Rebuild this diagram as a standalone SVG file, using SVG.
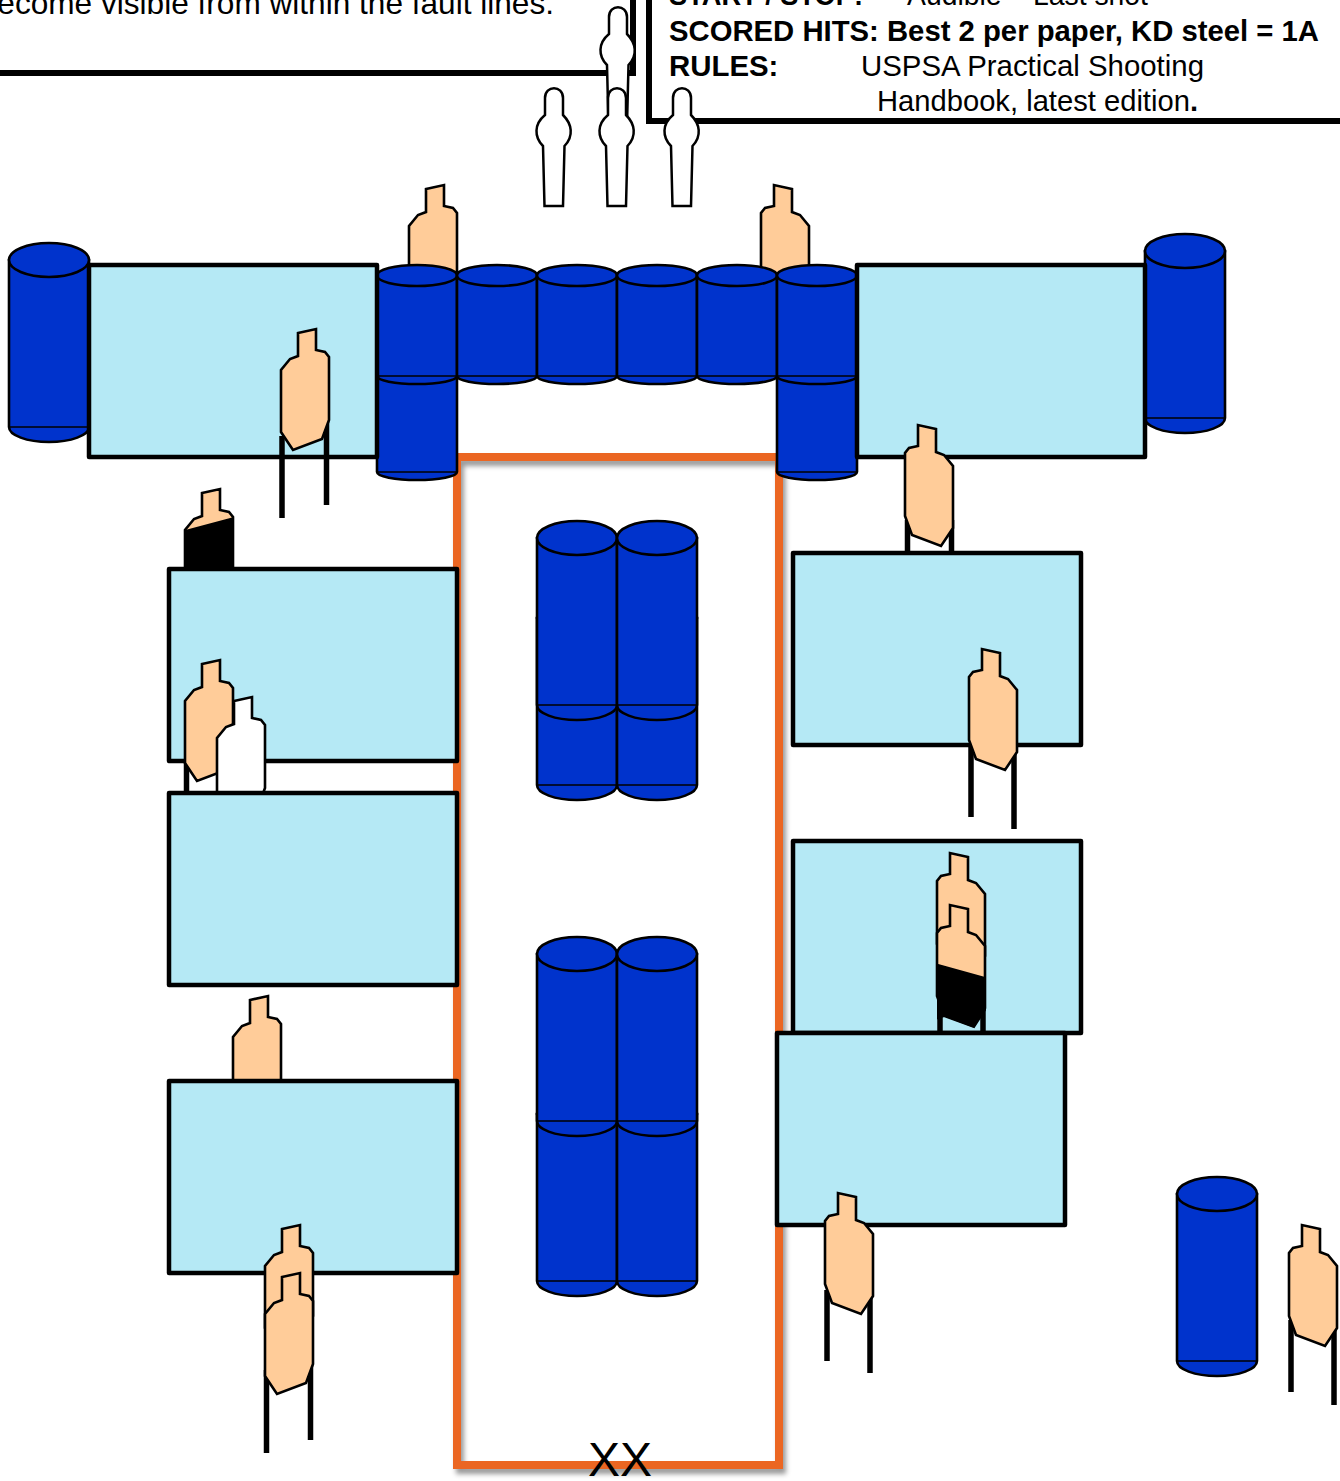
<svg xmlns="http://www.w3.org/2000/svg" width="1340" height="1481" viewBox="0 0 1340 1481">
<style>
text{font-family:"Liberation Sans",Arial,sans-serif;fill:#000;font-size:29.4px}
.b{font-weight:bold}
.wall{fill:#B5E9F5;stroke:#000;stroke-width:4.5;stroke-linejoin:round}
.frame{fill:none;stroke:#000;stroke-width:6}
.fault{fill:none;stroke:#EB6620;stroke-width:8;filter:url(#sh)}
.bar{fill:#0033CC;stroke:#000;stroke-width:2.6}
.thin{stroke:#000;stroke-width:1.5}
.tg{stroke:#000;stroke-width:2.6;stroke-linejoin:miter}
.tan{fill:#FFCC99}
.wh{fill:#fff}
.blk{fill:#000;stroke:#000;stroke-width:2}
.leg{stroke:#000;stroke-width:5.5}
.pop{fill:#fff;stroke:#000;stroke-width:2.5}
</style>
<defs>
<filter id="sh" x="-5%" y="-5%" width="110%" height="110%"><feDropShadow dx="3" dy="5" stdDeviation="2.5" flood-color="#000" flood-opacity="0.4"/></filter>
<path id="t" class="tg" d="M17,4 L35,0 V21 L44,23 L48,28 V91 L41,110 L12,121 L0,103 V41 L9,30 L17,27 Z"/>
<path id="tm" class="tg" d="M31,4 L13,0 V21 L4,23 L0,28 V91 L7,110 L36,121 L48,103 V41 L39,30 L31,27 Z"/>
<g id="b1"><path class="bar" d="M0,18 V185 A40,15 0 0 0 80,185 V18 Z"/><ellipse class="bar" cx="40" cy="18" rx="40" ry="17"/><line class="thin" x1="0" y1="185" x2="80" y2="185"/></g>
<g id="b2"><path class="bar" d="M0,10.5 V111 A40,8 0 0 0 80,111 V10.5 Z"/><ellipse class="bar" cx="40" cy="10.5" rx="40" ry="10.5"/><line class="thin" x1="0" y1="111" x2="80" y2="111"/></g>
<path id="p" class="pop" d="M-9,117 H9.5 L11,57 C20.5,47 18.5,35 9.5,26 V9 C9.5,-4 -8.5,-4 -8.5,9 V26 C-19.5,35 -19.5,48 -10.5,57 Z"/>
</defs>

<g id="texts">
<text x="554" y="14" text-anchor="end" style="font-size:31.6px">become visible from within the fault lines.</text>
<text class="b" x="669" y="5" textLength="194" lengthAdjust="spacingAndGlyphs">START / STOP:</text>
<text x="907" y="5" textLength="241" lengthAdjust="spacingAndGlyphs">Audible – Last shot</text>
<text class="b" x="669" y="41" textLength="650" lengthAdjust="spacingAndGlyphs">SCORED HITS: Best 2 per paper, KD steel = 1A</text>
<text class="b" x="669" y="76">RULES:</text>
<text x="861" y="76" textLength="343" lengthAdjust="spacingAndGlyphs">USPSA Practical Shooting</text>
<text x="877" y="111" textLength="321" lengthAdjust="spacingAndGlyphs">Handbook, latest edition<tspan class="b">.</tspan></text>
</g>
<g id="frames">
<rect class="frame" x="-20" y="-100" width="653" height="173"/>
<rect class="frame" x="649" y="-100" width="711" height="221"/>
</g>
<g id="poppers">
<use id="popper-top" href="#p" x="617.5" y="8"/>
<use id="popper-1" href="#p" x="553.5" y="89"/>
<use id="popper-2" href="#p" x="616.5" y="89"/>
<use id="popper-3" href="#p" x="681.5" y="89"/>
</g>
<g id="connectors">
<rect id="fault-line" class="fault" x="457" y="457" width="322" height="1008"/>
</g>
<g id="target-t1"><use href="#t" x="409" y="185" class="tan"/></g>
<g id="target-t2"><use href="#tm" x="761" y="185" class="tan"/></g>
<g id="barrels-outer"><use href="#b1" x="9" y="242"/><use href="#b1" x="1145" y="233"/></g>
<g id="barrels-row">
<use href="#b2" x="377" y="361"/><use href="#b2" x="777" y="361"/>
<use href="#b2" x="377" y="265"/><use href="#b2" x="457" y="265"/><use href="#b2" x="537" y="265"/><use href="#b2" x="617" y="265"/><use href="#b2" x="697" y="265"/><use href="#b2" x="777" y="265"/>
</g>
<g id="barrels-mid-1"><use href="#b1" x="537" y="600"/><use href="#b1" x="617" y="600"/><use href="#b1" x="537" y="520"/><use href="#b1" x="617" y="520"/></g>
<g id="barrels-mid-2"><use href="#b1" x="537" y="1096"/><use href="#b1" x="617" y="1096"/><use href="#b1" x="537" y="936"/><use href="#b1" x="617" y="936"/></g>
<g id="barrel-right"><use href="#b1" x="1177" y="1176"/></g>
<g id="wall-a"><rect class="wall" x="89" y="265" width="288" height="192"/></g>
<g id="wall-b"><rect class="wall" x="857" y="265" width="288" height="192"/></g>
<g id="target-a">
<line class="leg" x1="282" y1="436" x2="282" y2="518"/><line class="leg" x1="326.5" y1="421" x2="326.5" y2="505"/>
<use href="#t" x="281" y="329" class="tan"/>
</g>
<g id="target-b">
<line class="leg" x1="907.5" y1="520" x2="907.5" y2="553"/><line class="leg" x1="951.5" y1="520" x2="951.5" y2="553"/>
<use href="#tm" x="905" y="425" class="tan"/>
</g>
<g id="target-black-1">
<use href="#t" x="185" y="489" class="tan"/>
<path class="blk" d="M185.500,531 L232,518.500 V580 H185.500 Z"/>
</g>
<g id="wall-c"><rect class="wall" x="169" y="569" width="288" height="192"/></g>
<g id="wall-f"><rect class="wall" x="793" y="553" width="288" height="192"/></g>
<g id="target-c">
<line class="leg" x1="186.500" y1="760" x2="186.500" y2="793"/><line class="leg" x1="230" y1="760" x2="230" y2="793"/>
<use href="#t" x="185" y="660" class="tan"/>
</g>
<g id="target-white"><use href="#t" x="217" y="697" class="wh"/></g>
<g id="wall-d"><rect class="wall" x="169" y="793" width="288" height="192"/></g>
<g id="target-f">
<line class="leg" x1="971" y1="745" x2="971" y2="817"/><line class="leg" x1="1014" y1="745" x2="1014" y2="829"/>
<use href="#tm" x="969" y="649" class="tan"/>
</g>
<g id="target-e0"><use href="#t" x="233" y="996" class="tan"/></g>
<g id="wall-e"><rect class="wall" x="169" y="1081" width="288" height="192"/></g>
<g id="target-e1">
<use href="#t" x="265" y="1225" class="tan"/>
<line class="leg" x1="266.500" y1="1370" x2="266.500" y2="1453"/><line class="leg" x1="310.500" y1="1360" x2="310.500" y2="1440"/>
<use href="#t" x="265" y="1273" class="tan"/>
</g>
<g id="wall-g"><rect class="wall" x="793" y="841" width="288" height="192"/></g>
<g id="target-g">
<use href="#tm" x="937" y="853" class="tan"/>
<line class="leg" x1="940" y1="1000" x2="940" y2="1034"/><line class="leg" x1="983" y1="1000" x2="983" y2="1034"/>
<use href="#tm" x="937" y="905" class="tan"/>
<path class="blk" d="M938,965 L985,978 V1010 L974,1027 L944,1016 L938,1018 Z"/>
</g>
<g id="wall-h"><rect class="wall" x="777" y="1033" width="288" height="192"/></g>
<g id="target-h">
<line class="leg" x1="827" y1="1290" x2="827" y2="1361"/><line class="leg" x1="870" y1="1290" x2="870" y2="1373"/>
<use href="#tm" x="825" y="1193" class="tan"/>
</g>
<g id="target-r">
<line class="leg" x1="1291" y1="1320" x2="1291" y2="1392"/><line class="leg" x1="1334" y1="1320" x2="1334" y2="1405"/>
<use href="#tm" x="1289" y="1225" class="tan"/>
</g>
<text x="588" y="1476" style="font-size:48px">XX</text>
</svg>
